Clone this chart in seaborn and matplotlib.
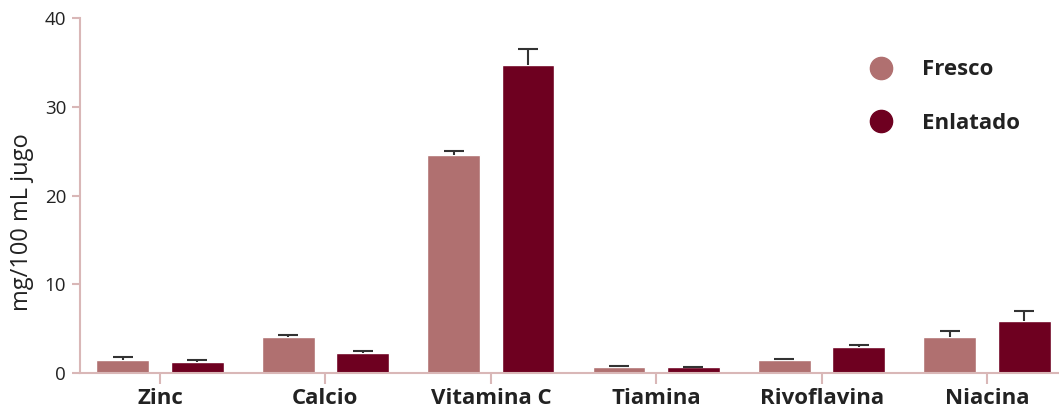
import matplotlib
matplotlib.use("Agg")
import matplotlib.pyplot as plt
from matplotlib.lines import Line2D
import seaborn as sns
import pandas as pd
import numpy as np

# Nutrient content per 100 mL of juice
nutrients = ["Zinc", "Calcio", "Vitamina C", "Tiamina", "Rivoflavina", "Niacina"]
fresco = [1.47, 4.06, 24.6, 0.68, 1.47, 4.06]
enlatado = [1.24, 2.26, 34.76, 0.68, 2.93, 5.87]
fresco_err = [0.37, 0.26, 0.45, 0.07, 0.11, 0.71]
enlatado_err = [0.23, 0.22, 1.81, 0.02, 0.26, 1.09]
groups = ["Fresco", "Enlatado"]

palette = {"Fresco": "#B07070", "Enlatado": "#6E0020"}
axis_color = "#D9B7B7"
text_color = "#222222"

df = pd.DataFrame({
    "Nutriente": nutrients * 2,
    "Tipo": [groups[0]] * len(nutrients) + [groups[1]] * len(nutrients),
    "Valor": fresco + enlatado,
    "Error": fresco_err + enlatado_err,
})

sns.set_theme(style="white")
plt.rcParams["font.family"] = ["Open Sans", "DejaVu Sans"]

fig = plt.figure(figsize=(10.59, 4.11), dpi=100)
ax = fig.add_axes([0.0755, 0.0925, 0.9245, 0.8635])

sns.barplot(data=df, x="Nutriente", y="Valor", hue="Tipo", order=nutrients,
            hue_order=groups, palette=palette, width=0.9, gap=0.29,
            errorbar=None, saturation=1, legend=False, ax=ax)

# One-sided (upper) error bars placed on each bar's centre
for container, grp in zip(ax.containers, groups):
    sub = df[df["Tipo"] == grp].set_index("Nutriente").loc[nutrients]
    xs = [p.get_x() + p.get_width() / 2 for p in container.patches]
    _, caps, _ = ax.errorbar(xs, sub["Valor"].values,
                             yerr=[np.zeros(len(xs)), sub["Error"].values],
                             fmt="none", ecolor="#333333", elinewidth=1.5,
                             capsize=7.5, capthick=1.5, zorder=3)
    caps[0].set_visible(False)

ax.set_ylim(0, 40)
ax.set_xlim(-0.484, 5.435)
ax.set_yticks([0, 10, 20, 30, 40])
ax.set_xlabel("")
ax.set_ylabel("mg/100 mL jugo", fontsize=17, color=text_color)
ax.yaxis.set_label_coords(-0.047, 0.425)

for side in ["top", "right"]:
    ax.spines[side].set_visible(False)
for side in ["left", "bottom"]:
    ax.spines[side].set_color(axis_color)
    ax.spines[side].set_linewidth(1.5)

ax.tick_params(axis="y", which="major", left=True, length=6, width=1.5,
               color=axis_color, labelsize=13.5, labelcolor=text_color, pad=4)
ax.tick_params(axis="x", which="major", bottom=True, length=8, width=1.5,
               color=axis_color, labelsize=16, labelcolor=text_color, pad=3)
for lbl in ax.get_xticklabels():
    lbl.set_fontweight("bold")

handles = [Line2D([0], [0], marker="o", linestyle="none", markersize=16,
                  markerfacecolor=palette[g], markeredgecolor=palette[g])
           for g in groups]
leg = ax.legend(handles, groups, loc="upper left", bbox_to_anchor=(0.775, 0.94),
                frameon=False, fontsize=16, labelspacing=1.45, handletextpad=0.85)
for t in leg.get_texts():
    t.set_fontweight("bold")
    t.set_color(text_color)

fig.savefig("out.png", dpi=100)
